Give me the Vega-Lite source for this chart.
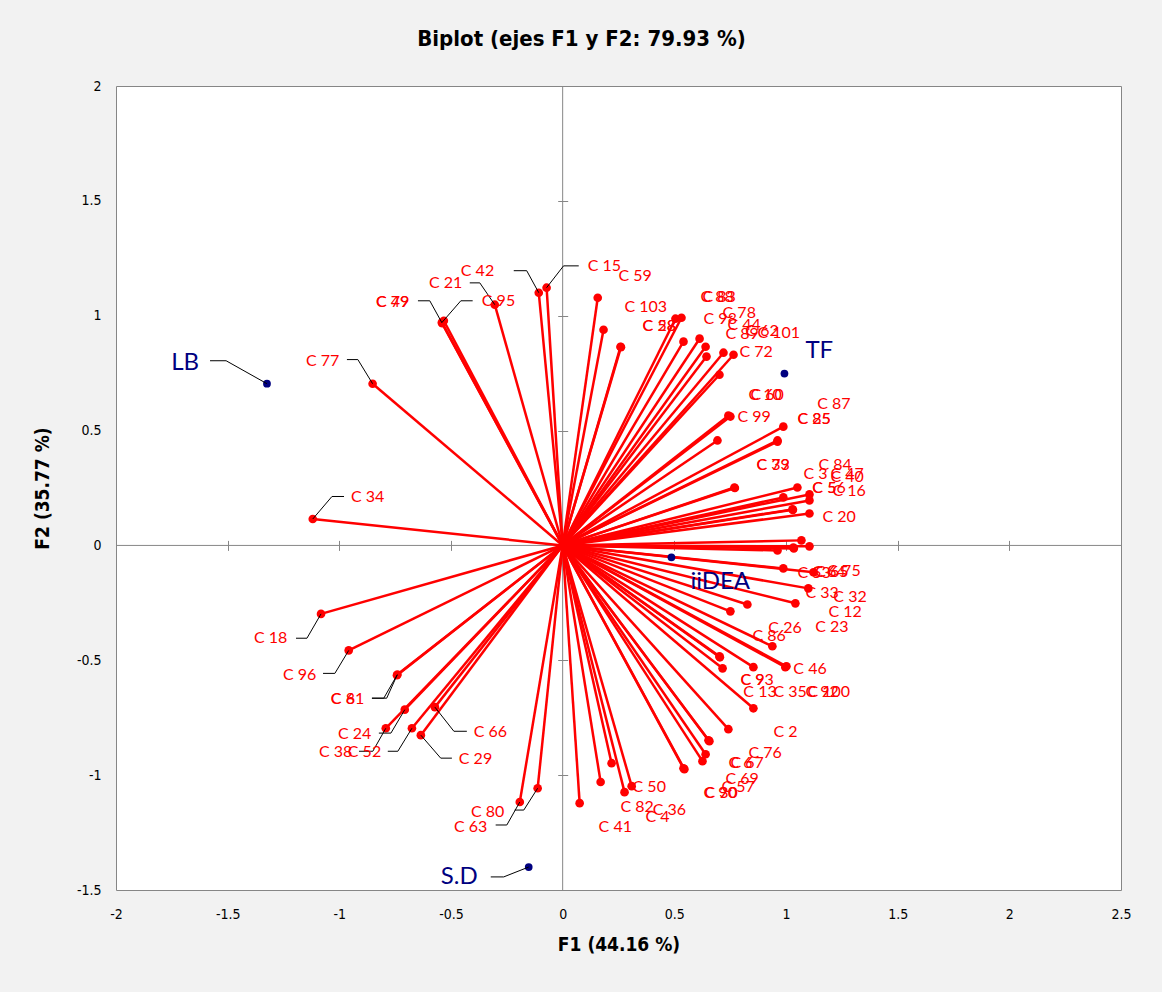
{
"$schema":"https://vega.github.io/schema/vega-lite/v6.json",
"width":1005,"height":804,
"autosize":{"type":"none"},
"padding":{"left":116,"top":86,"right":41,"bottom":102},
"background":"#f2f2f2",
"title":{"text":"Biplot (ejes F1 y F2: 79.93 %)","font":"'DejaVu Sans Condensed', 'Liberation Sans', sans-serif","fontSize":22,"fontWeight":"bold","color":"#000000","anchor":"middle","dx":-37,"offset":28},
"config":{"view":{"stroke":"#868686","strokeWidth":1,"fill":"#ffffff"}},
"resolve":{"axis":{"x":"independent","y":"independent"}},
"datasets":{
"pts":[
{"n":"C 42","x":-0.107,"y":1.100,"lx":-0.456,"ly":1.196},
{"n":"C 15","x":-0.072,"y":1.122,"lx":0.112,"ly":1.217},
{"n":"C 21","x":-0.304,"y":1.048,"lx":-0.599,"ly":1.143},
{"n":"C 49","x":-0.541,"y":0.970,"lx":-0.836,"ly":1.061},
{"n":"C 79","x":-0.539,"y":0.967,"lx":-0.836,"ly":1.061},
{"n":"C 95","x":-0.532,"y":0.978,"lx":-0.362,"ly":1.065},
{"n":"C 77","x":-0.851,"y":0.704,"lx":-1.149,"ly":0.804},
{"n":"C 34","x":-1.119,"y":0.115,"lx":-0.948,"ly":0.209},
{"n":"C 18","x":-1.082,"y":-0.298,"lx":-1.382,"ly":-0.404},
{"n":"C 96","x":-0.958,"y":-0.457,"lx":-1.252,"ly":-0.565},
{"n":"C 61","x":-0.742,"y":-0.565,"lx":-1.038,"ly":-0.670},
{"n":"C 8","x":-0.740,"y":-0.562,"lx":-1.038,"ly":-0.670},
{"n":"C 24","x":-0.707,"y":-0.715,"lx":-1.006,"ly":-0.822},
{"n":"C 38","x":-0.792,"y":-0.796,"lx":-1.091,"ly":-0.900},
{"n":"C 52","x":-0.675,"y":-0.796,"lx":-0.962,"ly":-0.900},
{"n":"C 66","x":-0.572,"y":-0.704,"lx":-0.398,"ly":-0.813},
{"n":"C 29","x":-0.635,"y":-0.826,"lx":-0.465,"ly":-0.930},
{"n":"C 80","x":-0.112,"y":-1.057,"lx":-0.411,"ly":-1.161},
{"n":"C 63","x":-0.192,"y":-1.117,"lx":-0.487,"ly":-1.226},
{"n":"C 59","x":0.157,"y":1.078,"lx":0.250,"ly":1.174},
{"n":"C 103","x":0.183,"y":0.939,"lx":0.277,"ly":1.039},
{"n":"C 58","x":0.259,"y":0.865,"lx":0.358,"ly":0.957},
{"n":"C 28","x":0.261,"y":0.863,"lx":0.358,"ly":0.957},
{"n":"C 88","x":0.505,"y":0.987,"lx":0.617,"ly":1.083},
{"n":"C 83","x":0.532,"y":0.991,"lx":0.626,"ly":1.083},
{"n":"C 98","x":0.541,"y":0.887,"lx":0.631,"ly":0.987},
{"n":"C 78","x":0.613,"y":0.900,"lx":0.716,"ly":1.013},
{"n":"C 44","x":0.640,"y":0.865,"lx":0.738,"ly":0.961},
{"n":"C 89","x":0.644,"y":0.822,"lx":0.729,"ly":0.922},
{"n":"C 62","x":0.720,"y":0.839,"lx":0.818,"ly":0.935},
{"n":"C 101","x":0.765,"y":0.830,"lx":0.872,"ly":0.926},
{"n":"C 72","x":0.702,"y":0.743,"lx":0.792,"ly":0.843},
{"n":"C 10","x":0.742,"y":0.565,"lx":0.832,"ly":0.657},
{"n":"C 60","x":0.751,"y":0.561,"lx":0.841,"ly":0.657},
{"n":"C 99","x":0.693,"y":0.457,"lx":0.783,"ly":0.557},
{"n":"C 87","x":0.988,"y":0.517,"lx":1.140,"ly":0.617},
{"n":"C 85","x":0.962,"y":0.457,"lx":1.051,"ly":0.552},
{"n":"C 25","x":0.962,"y":0.452,"lx":1.051,"ly":0.552},
{"n":"C 39","x":0.769,"y":0.252,"lx":0.868,"ly":0.352},
{"n":"C 73","x":0.771,"y":0.250,"lx":0.868,"ly":0.352},
{"n":"C 84","x":1.051,"y":0.252,"lx":1.145,"ly":0.352},
{"n":"C 3","x":0.988,"y":0.209,"lx":1.078,"ly":0.309},
{"n":"C 47","x":1.105,"y":0.222,"lx":1.199,"ly":0.309},
{"n":"C 40","x":1.105,"y":0.196,"lx":1.199,"ly":0.296},
{"n":"C 56","x":1.029,"y":0.157,"lx":1.118,"ly":0.248},
{"n":"C 5","x":1.031,"y":0.155,"lx":1.118,"ly":0.248},
{"n":"C 16","x":1.105,"y":0.139,"lx":1.208,"ly":0.235},
{"n":"C 20","x":1.069,"y":0.022,"lx":1.163,"ly":0.122},
{"n":"C 53","x":0.962,"y":-0.022,"lx":1.051,"ly":-0.122},
{"n":"C 64","x":1.033,"y":-0.009,"lx":1.118,"ly":-0.117},
{"n":"C 65","x":1.035,"y":-0.013,"lx":1.131,"ly":-0.117},
{"n":"C 75","x":1.105,"y":-0.004,"lx":1.185,"ly":-0.113},
{"n":"C 33","x":0.988,"y":-0.100,"lx":1.087,"ly":-0.209},
{"n":"C 32","x":1.123,"y":-0.117,"lx":1.212,"ly":-0.226},
{"n":"C 12","x":1.100,"y":-0.187,"lx":1.190,"ly":-0.291},
{"n":"C 23","x":1.042,"y":-0.252,"lx":1.131,"ly":-0.357},
{"n":"C 26","x":0.827,"y":-0.257,"lx":0.921,"ly":-0.361},
{"n":"C 86","x":0.751,"y":-0.287,"lx":0.850,"ly":-0.396},
{"n":"C 46","x":0.939,"y":-0.439,"lx":1.033,"ly":-0.539},
{"n":"C 93","x":0.702,"y":-0.483,"lx":0.796,"ly":-0.587},
{"n":"C 9","x":0.704,"y":-0.487,"lx":0.796,"ly":-0.587},
{"n":"C 13","x":0.716,"y":-0.535,"lx":0.809,"ly":-0.639},
{"n":"C 35","x":0.854,"y":-0.530,"lx":0.944,"ly":-0.639},
{"n":"C 100","x":0.997,"y":-0.530,"lx":1.096,"ly":-0.639},
{"n":"C 92","x":1.002,"y":-0.526,"lx":1.087,"ly":-0.639},
{"n":"C 2","x":0.854,"y":-0.709,"lx":0.944,"ly":-0.813},
{"n":"C 76","x":0.742,"y":-0.800,"lx":0.832,"ly":-0.904},
{"n":"C 6","x":0.653,"y":-0.848,"lx":0.742,"ly":-0.948},
{"n":"C 67","x":0.657,"y":-0.852,"lx":0.751,"ly":-0.948},
{"n":"C 69","x":0.640,"y":-0.909,"lx":0.729,"ly":-1.017},
{"n":"C 57","x":0.626,"y":-0.939,"lx":0.711,"ly":-1.052},
{"n":"C 90","x":0.541,"y":-0.970,"lx":0.631,"ly":-1.078},
{"n":"C 30","x":0.545,"y":-0.974,"lx":0.635,"ly":-1.078},
{"n":"C 50","x":0.219,"y":-0.948,"lx":0.313,"ly":-1.052},
{"n":"C 82","x":0.170,"y":-1.030,"lx":0.259,"ly":-1.139},
{"n":"C 36","x":0.309,"y":-1.048,"lx":0.403,"ly":-1.152},
{"n":"C 4","x":0.277,"y":-1.074,"lx":0.371,"ly":-1.183},
{"n":"C 41","x":0.076,"y":-1.122,"lx":0.161,"ly":-1.226}
],
"vars":[
{"n":"LB","x":-1.324,"y":0.704,"lx":-1.753,"ly":0.796},
{"n":"TF","x":0.993,"y":0.748,"lx":1.087,"ly":0.848},
{"n":"iiDEA","x":0.487,"y":-0.052,"lx":0.572,"ly":-0.161},
{"n":"S.D","x":-0.152,"y":-1.400,"lx":-0.546,"ly":-1.443}
],
"lead":[
{"x":-0.107,"y":1.100,"ex":-0.161,"ey":1.196,"hx":-0.219},
{"x":-0.072,"y":1.122,"ex":0.004,"ey":1.217,"hx":0.072},
{"x":-0.304,"y":1.048,"ex":-0.371,"ey":1.143,"hx":-0.416},
{"x":-0.541,"y":0.970,"ex":-0.595,"ey":1.065,"hx":-0.648},
{"x":-0.541,"y":0.970,"ex":-0.456,"ey":1.065,"hx":-0.403},
{"x":-0.851,"y":0.704,"ex":-0.917,"ey":0.809,"hx":-0.966},
{"x":-1.119,"y":0.115,"ex":-1.033,"ey":0.213,"hx":-0.979},
{"x":-1.082,"y":-0.298,"ex":-1.145,"ey":-0.404,"hx":-1.194},
{"x":-0.958,"y":-0.457,"ex":-1.020,"ey":-0.557,"hx":-1.073},
{"x":-0.742,"y":-0.565,"ex":-0.801,"ey":-0.665,"hx":-0.854},
{"x":-0.740,"y":-0.562,"ex":-0.788,"ey":-0.665,"hx":-0.854},
{"x":-0.707,"y":-0.715,"ex":-0.769,"ey":-0.817,"hx":-0.823},
{"x":-0.792,"y":-0.796,"ex":-0.850,"ey":-0.896,"hx":-0.912},
{"x":-0.675,"y":-0.796,"ex":-0.738,"ey":-0.896,"hx":-0.783},
{"x":-0.572,"y":-0.704,"ex":-0.487,"ey":-0.809,"hx":-0.429},
{"x":-0.635,"y":-0.826,"ex":-0.546,"ey":-0.926,"hx":-0.496},
{"x":-0.112,"y":-1.057,"ex":-0.174,"ey":-1.152,"hx":-0.215},
{"x":-0.192,"y":-1.117,"ex":-0.250,"ey":-1.217,"hx":-0.300},
{"x":-1.324,"y":0.704,"ex":-1.507,"ey":0.804,"hx":-1.579},
{"x":-0.152,"y":-1.400,"ex":-0.264,"ey":-1.443,"hx":-0.322}
]
},
"layer":[
{"data":{"values":[{}]},
 "mark":{"type":"rule","color":"#868686","strokeWidth":1},
 "encoding":{"y":{"datum":0,"type":"quantitative","scale":{"domain":[-1.5,2],"nice":false,"zero":false},"axis":null}}},
{"data":{"values":[{}]},
 "mark":{"type":"rule","color":"#868686","strokeWidth":1},
 "encoding":{"x":{"datum":0,"type":"quantitative","scale":{"domain":[-2,2.5],"nice":false,"zero":false},"axis":null}}},
{"data":{"name":"pts"},
 "mark":{"type":"rule","color":"#ff0000","strokeWidth":2.5},
 "encoding":{
  "x":{"field":"x","type":"quantitative","scale":{"domain":[-2,2.5],"nice":false,"zero":false},
       "axis":{"orient":"bottom","offset":-349.6,"labels":false,"domain":false,"grid":false,"ticks":true,"tickSize":10,"tickColor":"#868686","title":null,"values":[-1.5,-1,-0.5,0.5,1,1.5,2]}},
  "y":{"field":"y","type":"quantitative","scale":{"domain":[-1.5,2],"nice":false,"zero":false},
       "axis":{"orient":"left","offset":-451.7,"labels":false,"domain":false,"grid":false,"ticks":true,"tickSize":10,"tickColor":"#868686","title":null,"values":[-1,-0.5,0.5,1,1.5]}},
  "x2":{"datum":0},
  "y2":{"datum":0}}},
{"data":{"name":"pts"},
 "mark":{"type":"circle","color":"#ff0000","opacity":1,"size":75},
 "encoding":{
  "x":{"field":"x","type":"quantitative","scale":{"domain":[-2,2.5],"nice":false,"zero":false},
       "axis":{"orient":"bottom","title":"F1 (44.16 %)","values":[-2,-1.5,-1,-0.5,0,0.5,1,1.5,2,2.5],"labelExpr":"datum.value + ''","ticks":false,"domain":false,"grid":false,"labelPadding":17,"labelFont":"'DejaVu Sans Condensed', 'Liberation Sans', sans-serif","labelFontSize":14,"labelColor":"#000000","labelFlush":false,"titleFont":"'DejaVu Sans Condensed', 'Liberation Sans', sans-serif","titleFontSize":19,"titleFontWeight":"bold","titleColor":"#000000","titlePadding":14}},
  "y":{"field":"y","type":"quantitative","scale":{"domain":[-1.5,2],"nice":false,"zero":false},
       "axis":{"orient":"left","title":"F2 (35.77 %)","values":[-1.5,-1,-0.5,0,0.5,1,1.5,2],"labelExpr":"datum.value + ''","ticks":false,"domain":false,"grid":false,"labelPadding":15,"labelFont":"'DejaVu Sans Condensed', 'Liberation Sans', sans-serif","labelFontSize":14,"labelColor":"#000000","labelFlush":false,"titleFont":"'DejaVu Sans Condensed', 'Liberation Sans', sans-serif","titleFontSize":19,"titleFontWeight":"bold","titleColor":"#000000","titlePadding":24}}}},
{"data":{"name":"vars"},
 "mark":{"type":"circle","color":"#000080","opacity":1,"size":60},
 "encoding":{
  "x":{"field":"x","type":"quantitative","scale":{"domain":[-2,2.5],"nice":false,"zero":false},"axis":null},
  "y":{"field":"y","type":"quantitative","scale":{"domain":[-1.5,2],"nice":false,"zero":false},"axis":null}}},
{"data":{"name":"lead"},
 "mark":{"type":"rule","color":"#000000","strokeWidth":1},
 "encoding":{
  "x":{"field":"x","type":"quantitative","scale":{"domain":[-2,2.5],"nice":false,"zero":false},"axis":null},
  "y":{"field":"y","type":"quantitative","scale":{"domain":[-1.5,2],"nice":false,"zero":false},"axis":null},
  "x2":{"field":"ex"},"y2":{"field":"ey"}}},
{"data":{"name":"lead"},
 "mark":{"type":"rule","color":"#000000","strokeWidth":1},
 "encoding":{
  "x":{"field":"ex","type":"quantitative","scale":{"domain":[-2,2.5],"nice":false,"zero":false},"axis":null},
  "y":{"field":"ey","type":"quantitative","scale":{"domain":[-1.5,2],"nice":false,"zero":false},"axis":null},
  "x2":{"field":"hx"}}},
{"data":{"name":"pts"},
 "mark":{"type":"text","color":"#ff0000","font":"Lato","fontSize":16,"align":"left","baseline":"middle"},
 "encoding":{
  "x":{"field":"lx","type":"quantitative","scale":{"domain":[-2,2.5],"nice":false,"zero":false},"axis":null},
  "y":{"field":"ly","type":"quantitative","scale":{"domain":[-1.5,2],"nice":false,"zero":false},"axis":null},
  "text":{"field":"n"}}},
{"data":{"name":"vars"},
 "mark":{"type":"text","color":"#000080","font":"Lato","fontSize":24,"align":"left","baseline":"middle"},
 "encoding":{
  "x":{"field":"lx","type":"quantitative","scale":{"domain":[-2,2.5],"nice":false,"zero":false},"axis":null},
  "y":{"field":"ly","type":"quantitative","scale":{"domain":[-1.5,2],"nice":false,"zero":false},"axis":null},
  "text":{"field":"n"}}}
]
}
